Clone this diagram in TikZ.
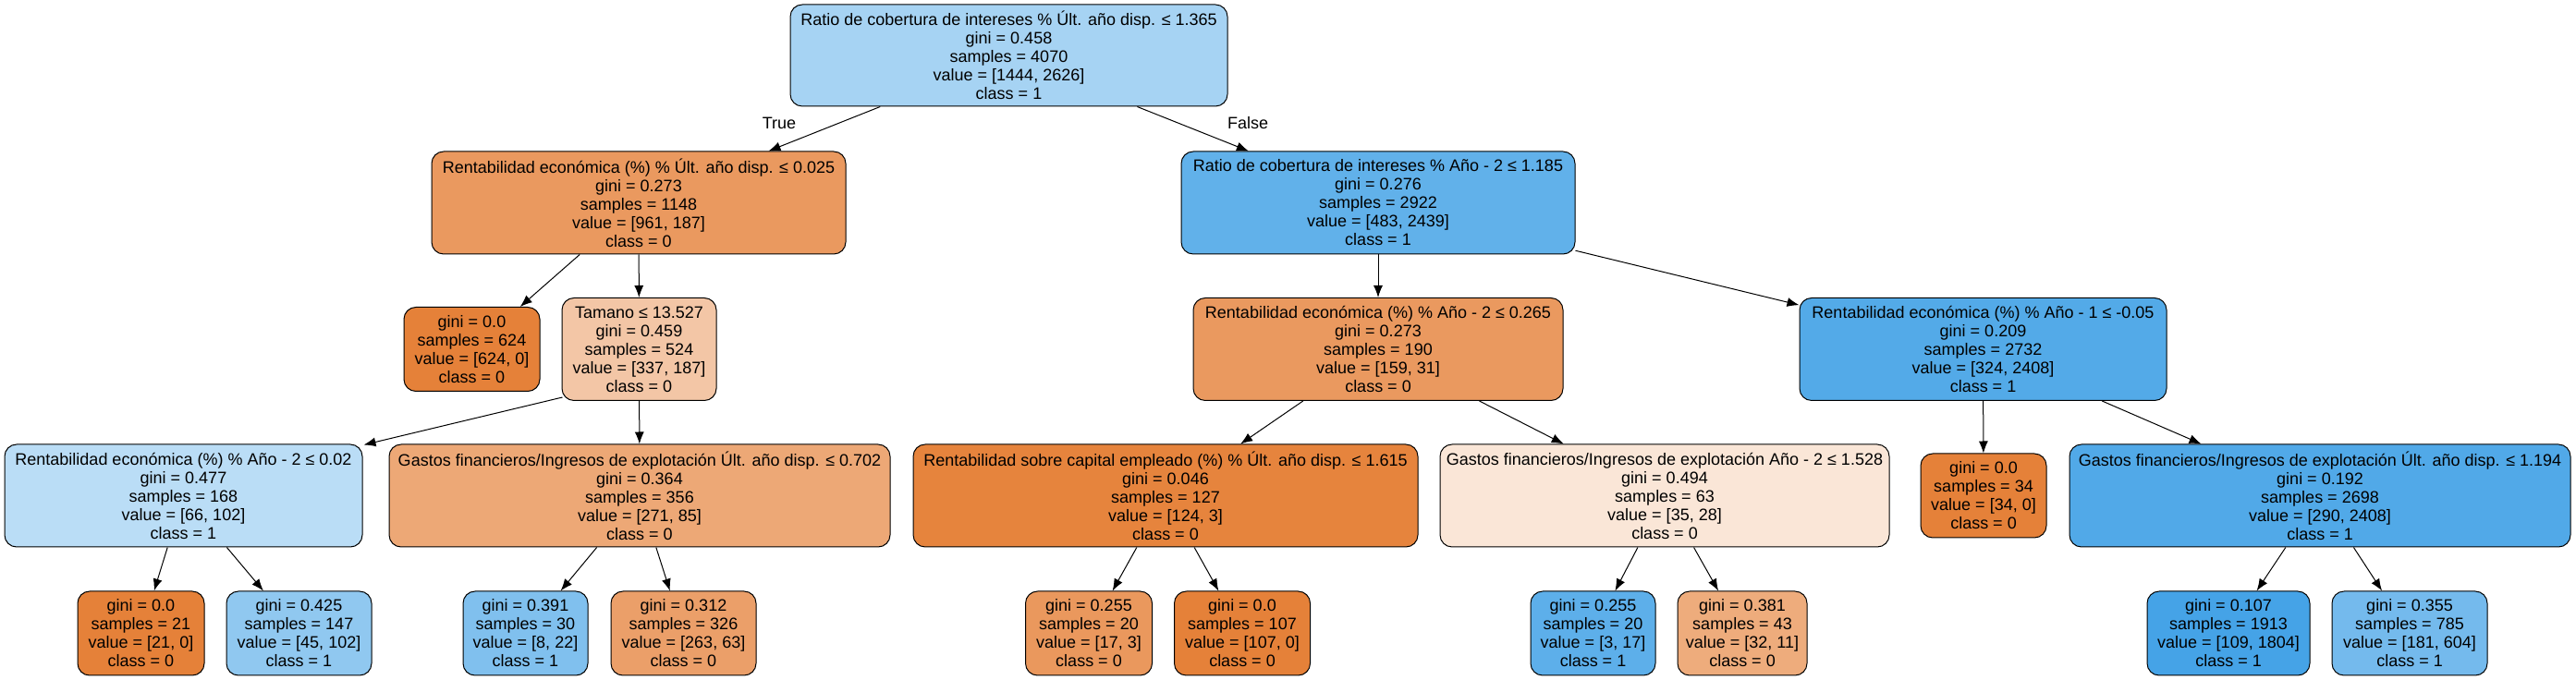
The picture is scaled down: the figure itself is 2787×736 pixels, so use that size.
\documentclass[tikz,border=0pt]{standalone}
\usepackage{fontspec}
\setmainfont{Liberation Sans}
\usetikzlibrary{arrows.meta}
\definecolor{clszero}{RGB}{229,129,57}
\definecolor{clsone}{RGB}{57,157,229}
\tikzset{
  treenode/.style={draw=black,line width=1bp,rounded corners=13bp,inner sep=0pt,align=center,minimum height=111bp},
  leafnode/.style={treenode,minimum height=91bp},
}
\begin{document}
\begin{tikzpicture}[>={Latex[length=13bp,width=10bp]},line join=bevel,font=\fontsize{18bp}{20bp}\selectfont]
\useasboundingbox (0bp,0bp) rectangle (2787bp,736bp);
%%
\node (node_0) at (1091.5bp,676bp) [treenode,minimum width=473bp,minimum height=110bp,fill=clsone!45] {Ratio de cobertura de intereses \% Últ. año disp. ≤ 1.365\\gini = 0.458\\samples = 4070\\value = [1444, 2626]\\class = 1};
  \node (node_1) at (691bp,516.5bp) [treenode,minimum width=448bp,fill=clszero!81] {Rentabilidad económica (\%) \% Últ. año disp. ≤ 0.025\\gini = 0.273\\samples = 1148\\value = [961, 187]\\class = 0};
  \node (node_2) at (510.5bp,358bp) [leafnode,minimum width=147bp,fill=clszero] {gini = 0.0\\samples = 624\\value = [624, 0]\\class = 0};
  \node (node_3) at (691.5bp,358bp) [treenode,minimum width=167bp,fill=clszero!45] {Tamano ≤ 13.527\\gini = 0.459\\samples = 524\\value = [337, 187]\\class = 0};
  \node (node_4) at (198.5bp,199.5bp) [treenode,minimum width=387bp,fill=clsone!35] {Rentabilidad económica (\%) \% Año - 2 ≤ 0.02\\gini = 0.477\\samples = 168\\value = [66, 102]\\class = 1};
  \node (node_5) at (152.5bp,50.5bp) [leafnode,minimum width=137bp,fill=clszero] {gini = 0.0\\samples = 21\\value = [21, 0]\\class = 0};
  \node (node_6) at (323.5bp,50.5bp) [leafnode,minimum width=157bp,fill=clsone!56] {gini = 0.425\\samples = 147\\value = [45, 102]\\class = 1};
  \node (node_7) at (692bp,199.5bp) [treenode,minimum width=542bp,fill=clszero!69] {Gastos financieros/Ingresos de explotación Últ. año disp. ≤ 0.702\\gini = 0.364\\samples = 356\\value = [271, 85]\\class = 0};
  \node (node_8) at (568.5bp,50.5bp) [leafnode,minimum width=135bp,fill=clsone!64] {gini = 0.391\\samples = 30\\value = [8, 22]\\class = 1};
  \node (node_9) at (739.5bp,50.5bp) [leafnode,minimum width=157bp,fill=clszero!76] {gini = 0.312\\samples = 326\\value = [263, 63]\\class = 0};
  \node (node_10) at (1491bp,516.5bp) [treenode,minimum width=426bp,fill=clsone!80] {Ratio de cobertura de intereses \% Año - 2 ≤ 1.185\\gini = 0.276\\samples = 2922\\value = [483, 2439]\\class = 1};
  \node (node_11) at (1491bp,358bp) [treenode,minimum width=400bp,fill=clszero!81] {Rentabilidad económica (\%) \% Año - 2 ≤ 0.265\\gini = 0.273\\samples = 190\\value = [159, 31]\\class = 0};
  \node (node_12) at (1261bp,199.5bp) [treenode,minimum width=546bp,fill=clszero!98] {Rentabilidad sobre capital empleado (\%) \% Últ. año disp. ≤ 1.615\\gini = 0.046\\samples = 127\\value = [124, 3]\\class = 0};
  \node (node_13) at (1178bp,50.5bp) [leafnode,minimum width=137bp,fill=clszero!82] {gini = 0.255\\samples = 20\\value = [17, 3]\\class = 0};
  \node (node_14) at (1344bp,50.5bp) [leafnode,minimum width=147bp,fill=clszero] {gini = 0.0\\samples = 107\\value = [107, 0]\\class = 0};
  \node (node_15) at (1801bp,199.5bp) [treenode,minimum width=486bp,fill=clszero!20] {Gastos financieros/Ingresos de explotación Año - 2 ≤ 1.528\\gini = 0.494\\samples = 63\\value = [35, 28]\\class = 0};
  \node (node_16) at (1723.5bp,50.5bp) [leafnode,minimum width=135bp,fill=clsone!82] {gini = 0.255\\samples = 20\\value = [3, 17]\\class = 1};
  \node (node_17) at (1885bp,50.5bp) [leafnode,minimum width=140bp,fill=clszero!66] {gini = 0.381\\samples = 43\\value = [32, 11]\\class = 0};
  \node (node_18) at (2145.5bp,358bp) [treenode,minimum width=397bp,fill=clsone!87] {Rentabilidad económica (\%) \% Año - 1 ≤ -0.05\\gini = 0.209\\samples = 2732\\value = [324, 2408]\\class = 1};
  \node (node_19) at (2146bp,199.5bp) [leafnode,minimum width=136bp,fill=clszero] {gini = 0.0\\samples = 34\\value = [34, 0]\\class = 0};
  \node (node_20) at (2510bp,199.5bp) [treenode,minimum width=542bp,fill=clsone!88] {Gastos financieros/Ingresos de explotación Últ. año disp. ≤ 1.194\\gini = 0.192\\samples = 2698\\value = [290, 2408]\\class = 1};
  \node (node_21) at (2411bp,50.5bp) [leafnode,minimum width=176bp,fill=clsone!94] {gini = 0.107\\samples = 1913\\value = [109, 1804]\\class = 1};
  \node (node_22) at (2607bp,50.5bp) [leafnode,minimum width=168bp,fill=clsone!70] {gini = 0.355\\samples = 785\\value = [181, 604]\\class = 1};
  \node (lbl_true) at (843bp,603bp) {True};
  \node (lbl_false) at (1350bp,603bp) {False};
  \draw [black,->,line width=1bp] (node_0) -- (node_1);
  \draw [black,->,line width=1bp] (node_0) -- (node_10);
  \draw [black,->,line width=1bp] (node_1) -- (node_2);
  \draw [black,->,line width=1bp] (node_1) -- (node_3);
  \draw [black,->,line width=1bp] ([shift={(1bp,4bp)}]node_3.south west) -- ([shift={(1bp,-1bp)}]node_4.north east);
  \draw [black,->,line width=1bp] (node_3) -- (node_7);
  \draw [black,->,line width=1bp] (node_4) -- (node_5);
  \draw [black,->,line width=1bp] (node_4) -- (node_6);
  \draw [black,->,line width=1bp] (node_7) -- (node_8);
  \draw [black,->,line width=1bp] (node_7) -- (node_9);
  \draw [black,->,line width=1bp] (node_10) -- (node_11);
  \draw [black,->,line width=1bp] (node_10) -- (node_18);
  \draw [black,->,line width=1bp] (node_11) -- (node_12);
  \draw [black,->,line width=1bp] (node_11) -- (node_15);
  \draw [black,->,line width=1bp] (node_12) -- (node_13);
  \draw [black,->,line width=1bp] (node_12) -- (node_14);
  \draw [black,->,line width=1bp] (node_15) -- (node_16);
  \draw [black,->,line width=1bp] (node_15) -- (node_17);
  \draw [black,->,line width=1bp] (node_18) -- (node_19);
  \draw [black,->,line width=1bp] (node_18) -- (node_20);
  \draw [black,->,line width=1bp] (node_20) -- (node_21);
  \draw [black,->,line width=1bp] (node_20) -- (node_22);
%
\end{tikzpicture}
\end{document}
